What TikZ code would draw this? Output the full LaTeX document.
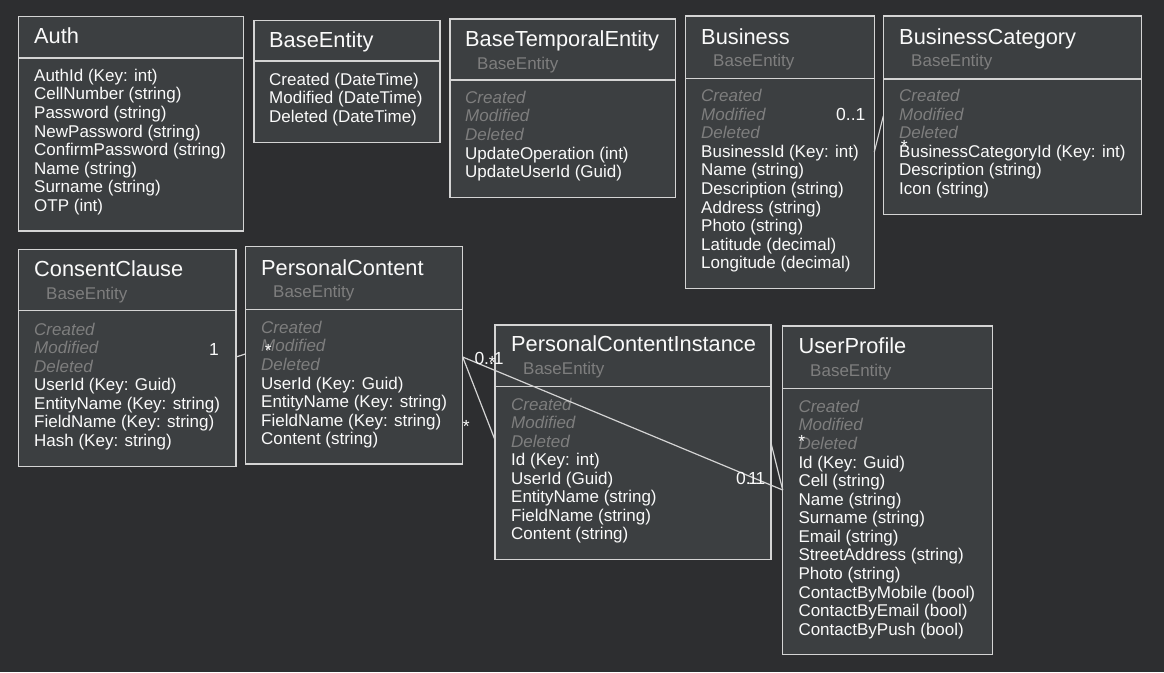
\documentclass[tikz,border=0pt]{standalone}
\usepackage{fontspec}
\setmainfont{Liberation Sans}
\definecolor{bgc}{HTML}{2D2E30}
\definecolor{boxc}{HTML}{3C3F41}
\definecolor{linec}{HTML}{D4D4D4}
\definecolor{greyc}{HTML}{7E7E7E}
\definecolor{txtc}{HTML}{FAFAFA}
\tikzset{
  entity/.style={draw=linec, line width=1.5pt, fill=boxc, anchor=north west, inner sep=0pt, outer sep=0pt},
  divider/.style={draw=linec, line width=1.5pt},
  conn/.style={draw=linec, line width=1.2pt},
  ttl/.style={font=\fontsize{21.8}{24}\selectfont, text=txtc, anchor=base west, inner sep=0pt},
  sub/.style={font=\fontsize{17}{19}\selectfont, text=greyc, anchor=base west, inner sep=0pt},
  inh/.style={font=\fontsize{17}{19}\selectfont\itshape, text=greyc, anchor=base west, inner sep=0pt},
  own/.style={font=\fontsize{17}{19}\selectfont, text=txtc, anchor=base west, inner sep=0pt},
  mult/.style={font=\fontsize{17.5}{19}\selectfont, text=txtc, anchor=base west, inner sep=0pt},
}
% name, x, y, w, h
\newcommand\entitybox[5]{\node[entity, minimum width=#4pt, minimum height=#5pt] (#1) at (#2,#3) {};}
% name, x, y0, list
\newcommand\attrlist[4]{\foreach \t/\s [count=\k from 0] in {#4} {\node[\t] (#1-\k) at (#2,{#3+18.57*\k}) {\s};}}
\begin{document}
\begin{tikzpicture}[x=1pt,y=-1pt]
\useasboundingbox (0,0) rectangle (1164,672);
\fill[bgc] (0,0) rectangle (1164,672);

% ---- boxes
\entitybox{auth}{18.5}{16.5}{224.8}{214.5}
\entitybox{base}{254}{20.7}{186}{122}
\entitybox{bte}{450}{19}{225.3}{178.7}
\entitybox{biz}{685.7}{16}{188.6}{272.7}
\entitybox{bc}{883.3}{16}{258.4}{198.7}
\entitybox{cc}{18.3}{249.3}{217.7}{217.4}
\entitybox{pc}{245.3}{246.7}{217.4}{217.3}
\entitybox{pci}{495}{325}{276}{234.3}
\entitybox{up}{782.7}{326}{209.6}{328.3}

% ---- dividers
\draw[divider] (18.5,58) -- (243.3,58);
\draw[divider] (254,61) -- (440,61);
\draw[divider] (450,80) -- (675.3,80);
\draw[divider] (685.7,78.3) -- (874.3,78.3);
\draw[divider] (883.3,79) -- (1141.7,79);
\draw[divider] (18.3,310.7) -- (236,310.7);
\draw[divider] (245.3,309.3) -- (462.7,309.3);
\draw[divider] (495,386.7) -- (771,386.7);
\draw[divider] (782.7,388.3) -- (992.3,388.3);

% ---- Auth
\node[ttl] (auth-t) at (34,43.7) {Auth};
\attrlist{auth}{34}{81.3}{own/AuthId (Key: int), own/CellNumber (string), own/Password (string), own/NewPassword (string), own/ConfirmPassword (string), own/Name (string), own/Surname (string), own/OTP (int)}

% ---- BaseEntity
\node[ttl] (base-t) at (269,47.7) {BaseEntity};
\attrlist{base}{269}{85}{own/Created (DateTime), own/Modified (DateTime), own/Deleted (DateTime)}

% ---- BaseTemporalEntity
\node[ttl] (bte-t) at (465,46.7) {BaseTemporalEntity};
\node[sub] (bte-s) at (477,69) {BaseEntity};
\attrlist{bte}{465}{103.3}{inh/Created, inh/Modified, inh/Deleted, own/UpdateOperation (int), own/UpdateUserId (Guid)}

% ---- Business
\node[ttl] (biz-t) at (701,44.3) {Business};
\node[sub] (biz-s) at (713,66.5) {BaseEntity};
\attrlist{biz}{701}{101.7}{inh/Created, inh/Modified, inh/Deleted, own/BusinessId (Key: int), own/Name (string), own/Description (string), own/Address (string), own/Photo (string), own/Latitude (decimal), own/Longitude (decimal)}

% ---- BusinessCategory
\node[ttl] (bc-t) at (899,44.5) {BusinessCategory};
\node[sub] (bc-s) at (911,66.5) {BaseEntity};
\attrlist{bc}{899}{101.7}{inh/Created, inh/Modified, inh/Deleted, own/BusinessCategoryId (Key: int), own/Description (string), own/Icon (string)}

% ---- ConsentClause
\node[ttl] (cc-t) at (34,276.7) {ConsentClause};
\node[sub] (cc-s) at (46,299.3) {BaseEntity};
\attrlist{cc}{34}{335}{inh/Created, inh/Modified, inh/Deleted, own/UserId (Key: Guid), own/EntityName (Key: string), own/FieldName (Key: string), own/Hash (Key: string)}

% ---- PersonalContent
\node[ttl] (pc-t) at (261,275) {PersonalContent};
\node[sub] (pc-s) at (273,297) {BaseEntity};
\attrlist{pc}{261}{333.3}{inh/Created, inh/Modified, inh/Deleted, own/UserId (Key: Guid), own/EntityName (Key: string), own/FieldName (Key: string), own/Content (string)}

% ---- PersonalContentInstance
\node[ttl] (pci-t) at (511,351.7) {PersonalContentInstance};
\node[sub] (pci-s) at (523,374.3) {BaseEntity};
\attrlist{pci}{511}{410}{inh/Created, inh/Modified, inh/Deleted, own/Id (Key: int), own/UserId (Guid), own/EntityName (string), own/FieldName (string), own/Content (string)}

% ---- UserProfile
\node[ttl] (up-t) at (798.3,353.3) {UserProfile};
\node[sub] (up-s) at (810,376.7) {BaseEntity};
\attrlist{up}{798.3}{412.3}{inh/Created, inh/Modified, inh/Deleted, own/Id (Key: Guid), own/Cell (string), own/Name (string), own/Surname (string), own/Email (string), own/StreetAddress (string), own/Photo (string), own/ContactByMobile (bool), own/ContactByEmail (bool), own/ContactByPush (bool)}

% ---- connectors
\draw[conn] ([yshift=-136pt]biz.north east) -- ([yshift=-100pt]bc.north west);
\draw[conn] ([yshift=-107.7pt]cc.north east) -- ([yshift=-107.3pt]pc.north west);
\draw[conn] ([yshift=-110.3pt]pc.north east) -- ([yshift=-115pt]pci.north west);
\draw[conn] ([yshift=-110.3pt]pc.north east) -- ([yshift=-164pt]up.north west);
\draw[conn] ([yshift=-118pt]pci.north east) -- ([yshift=-164pt]up.north west);

% ---- multiplicities
\node[mult] (m1) at (836,120) {0..1};
\node[mult] (m2) at (900.7,152) {*};
\node[mult] (m3) at (208.8,355) {1};
\node[mult] (m4) at (264.7,356) {*};
\node[mult] (m5) at (474.3,364.3) {0..1};
\node[mult] (m6) at (488.7,368) {*};
\node[mult] (m7) at (462.7,432.5) {*};
\node[mult] (m8) at (736,484) {0..1};
\node[mult] (m9) at (748,484) {1};
\node[mult] (m10) at (798.2,447.5) {*};
\end{tikzpicture}
\end{document}
